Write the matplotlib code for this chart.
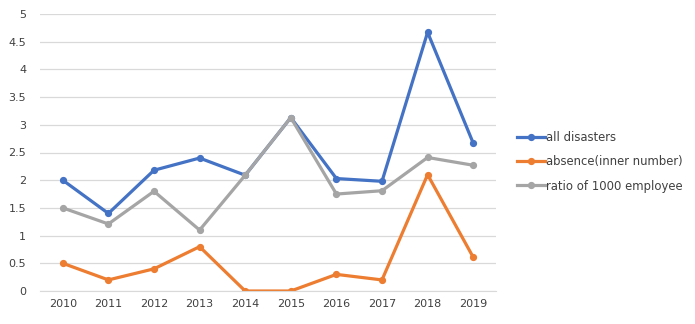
import matplotlib.pyplot as plt

years = ['2010', '2011', '2012', '2013', '2014', '2015', '2016', '2017', '2018', '2019']
all_disasters = [2.0, 1.4, 2.18, 2.4, 2.09, 3.13, 2.03, 1.98, 4.67, 2.67]
absence = [0.5, 0.2, 0.4, 0.8, 0.0, 0.0, 0.3, 0.2, 2.1, 0.61]
ratio_1000 = [1.5, 1.21, 1.8, 1.1, 2.09, 3.13, 1.75, 1.81, 2.41, 2.27]

fig = plt.figure(figsize=(6.95, 3.24), dpi=100)
ax = fig.add_axes([40 / 695, 1 - 291 / 324, 456 / 695, 277 / 324])

x = range(len(years))
ax.plot(x, all_disasters, color='#4472C4', lw=2.3, marker='o', ms=4.2, label='all disasters')
ax.plot(x, absence, color='#ED7D31', lw=2.3, marker='o', ms=4.2, label='absence(inner number)')
ax.plot(x, ratio_1000, color='#A5A5A5', lw=2.3, marker='o', ms=4.2, label='ratio of 1000 employee')

ax.set_xlim(-0.5, len(years) - 0.5)
ax.set_ylim(0, 5)
ax.set_yticks([0, 0.5, 1, 1.5, 2, 2.5, 3, 3.5, 4, 4.5, 5])
ax.set_yticklabels(['0', '0.5', '1', '1.5', '2', '2.5', '3', '3.5', '4', '4.5', '5'])
ax.set_xticks(list(x))
ax.set_xticklabels(years)
ax.grid(axis='y', color='#D9D9D9', lw=0.9)
ax.set_axisbelow(True)
for s in ax.spines.values():
    s.set_visible(False)
ax.spines['bottom'].set_visible(True)
ax.spines['bottom'].set_color('#D9D9D9')
ax.tick_params(length=0, labelsize=8, colors='#404040', pad=6)
ax.tick_params(axis='y', pad=10)

fig.legend(loc='center left', bbox_to_anchor=(512 / 695, 1 - 162 / 324), frameon=False,
           fontsize=8.4, handlelength=2.4, handletextpad=0.15, labelspacing=0.95,
           labelcolor='#404040', borderaxespad=0)

fig.savefig('out.png', dpi=100)
